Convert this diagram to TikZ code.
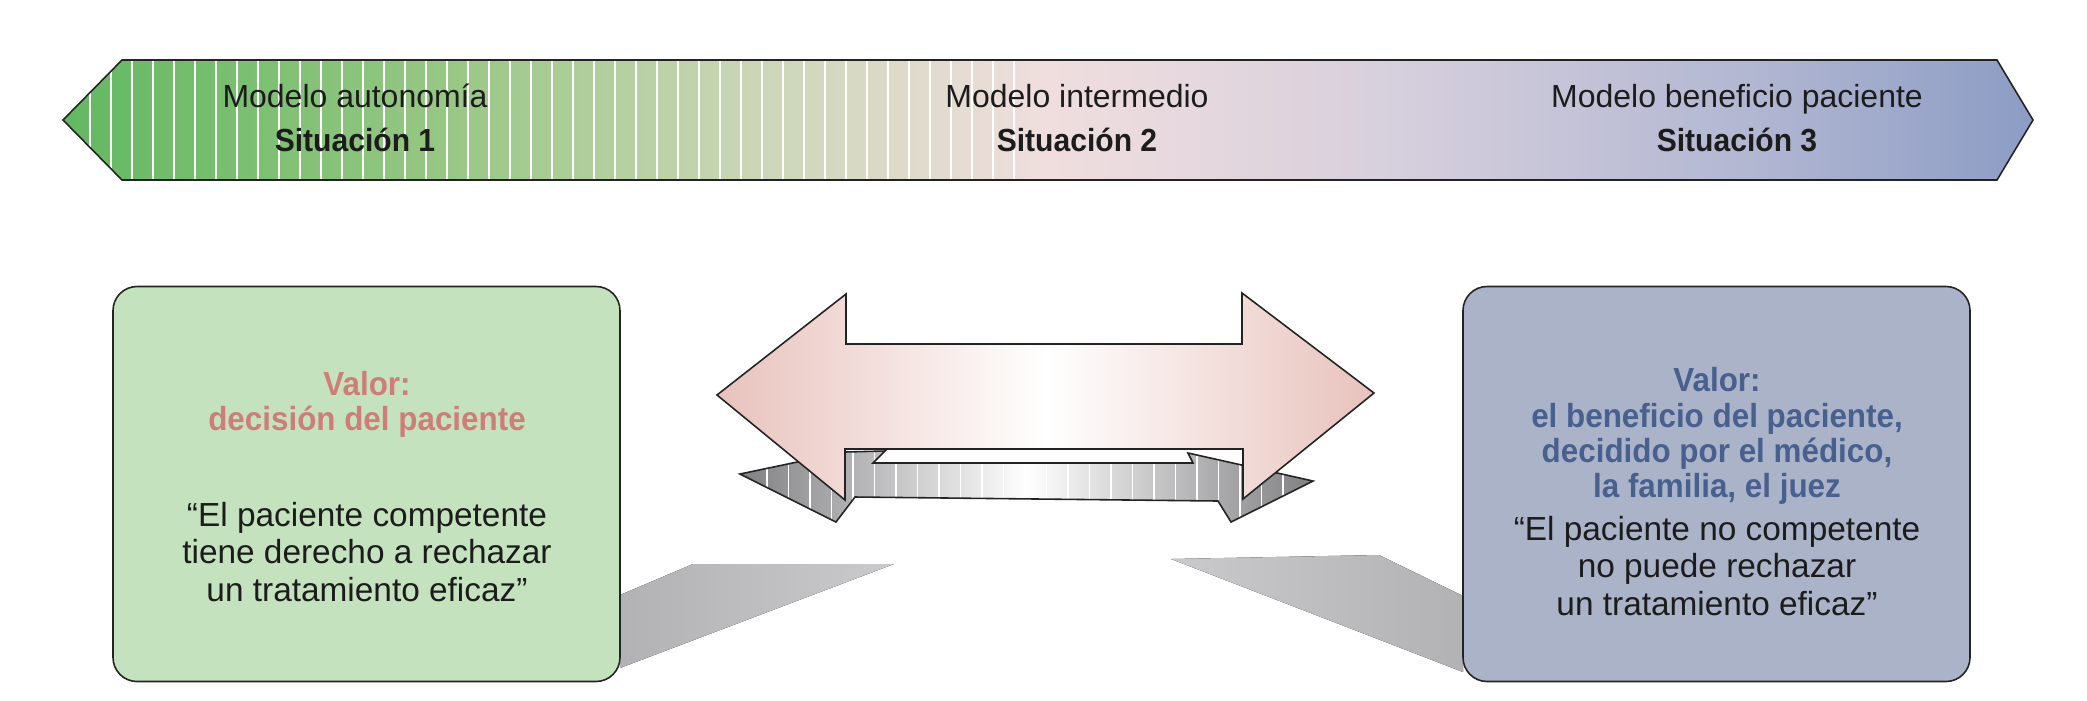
\documentclass[tikz,border=0pt]{standalone}
\usepackage{fontspec}
\setmainfont{Liberation Sans}[BoldFeatures={FakeStretch=0.94}]
\usepackage{xcolor}
\definecolor{bandA}{RGB}{98,184,98}
\definecolor{bandB}{RGB}{152,199,132}
\definecolor{bandC}{RGB}{202,214,182}
\definecolor{bandD}{RGB}{240,222,222}
\definecolor{bandE}{RGB}{214,207,221}
\definecolor{bandF}{RGB}{178,183,210}
\definecolor{bandG}{RGB}{140,156,196}
\definecolor{rimGray}{RGB}{35,35,35}
\definecolor{inkBlack}{RGB}{28,28,28}
\definecolor{panelGreen}{RGB}{197,226,190}
\definecolor{panelBlue}{RGB}{171,179,201}
\definecolor{valRed}{RGB}{206,126,121}
\definecolor{valBlue}{RGB}{72,96,142}
\definecolor{arrowPink}{RGB}{232,194,188}
\definecolor{arrowGray}{RGB}{128,128,131}
\definecolor{shadowA}{RGB}{178,178,181}
\definecolor{shadowB}{RGB}{202,202,204}
\usepackage{tikz}
\usetikzlibrary{positioning}
\pgfdeclarehorizontalshading{bandShade}{100bp}{color(0bp)=(bandA); color(25bp)=(bandA);
  color(34.8bp)=(bandB); color(42.4bp)=(bandC); color(50bp)=(bandD); color(58.9bp)=(bandE);
  color(67.8bp)=(bandF); color(75bp)=(bandG); color(100bp)=(bandG)}
\newcommand{\bandOutline}{(63,120) -- (122,60) -- (1997,60) -- (2033,120) -- (1997,180) -- (122,180) -- cycle}
\newcommand{\grayOutline}{(740,474) -- (845,452) -- (885,451) -- (873,463) -- (1193,463) -- (1188,453)
  -- (1313,481) -- (1231,522) -- (1218,501) -- (855,497) -- (836,522) -- cycle}

\begin{document}
\begin{tikzpicture}[x=0.1mm,y=-0.1mm,
  rim/.style={draw=rimGray,line width=0.45pt},
  band/.style={align=center,inner sep=0pt,font=\fontsize{9.1}{12.5}\selectfont,text=inkBlack},
  panel/.style={rim,rounded corners=2.4mm,minimum width=50.7mm,minimum height=39.5mm,inner sep=0pt},
  valor/.style={align=center,inner sep=0pt,font=\bfseries\fontsize{9.5}{10}\selectfont},
  cita/.style={align=center,inner sep=0pt,font=\fontsize{9.5}{10.6}\selectfont,text=inkBlack}]
  \useasboundingbox (0,0) rectangle (2087,700);

  % top band
  \shade[shading=bandShade] \bandOutline;
  \begin{scope}
    \clip \bandOutline;
    \foreach \x in {90,111,...,1033}
      \draw[white,line width=0.35pt] (\x,60) -- (\x,180);
  \end{scope}
  \draw[rim] \bandOutline;
  \node[band] (autonomia) at (355,118) {Modelo autonomía\\\textbf{Situación 1}};
  \node[band] (intermedio) at (1077,118) {Modelo intermedio\\\textbf{Situación 2}};
  \node[band] (beneficio) at (1737,118) {Modelo beneficio paciente\\\textbf{Situación 3}};

  % shadows
  \fill[left color=shadowA,right color=shadowB] (620,595) -- (693,564) -- (894,564) -- (620,668) -- cycle;
  \fill[left color=shadowB,right color=shadowA] (1171,559) -- (1379,555) -- (1463,596) -- (1463,672) -- cycle;

  % double arrow
  \shade[left color=arrowGray,right color=arrowGray,middle color=white] \grayOutline;
  \begin{scope}
    \clip \grayOutline;
    \foreach \x in {767,788.5,...,1300}
      \draw[white,line width=0.35pt] (\x,440) -- (\x,530);
  \end{scope}
  \draw[rim] \grayOutline;
  \shade[rim,left color=arrowPink,right color=arrowPink,middle color=white]
    (717,395) -- (846,294) -- (846,344) -- (1242,344) -- (1242,293) -- (1374,393)
    -- (1243,499) -- (1243,449) -- (845,449) -- (845,500) -- cycle;

  % panels
  \node[panel,fill=panelGreen] (autoBox) at (366.5,484) {};
  \node[panel,fill=panelBlue] (benefBox) at (1716.5,484) {};
  \node[valor,text=valRed] (autoValor) at (367,404) {Valor:\\decisión del paciente};
  \node[cita] (autoCita) at (367,552) {“El paciente competente\\tiene derecho a rechazar\\un tratamiento eficaz”};
  \node[valor,text=valBlue] (benefValor) at (1717,436) {Valor:\\el beneficio del paciente,\\decidido por el médico,\\la familia, el juez};
  \node[cita] (benefCita) at (1717,566) {“El paciente no competente\\no puede rechazar\\un tratamiento eficaz”};
\end{tikzpicture}
\end{document}
